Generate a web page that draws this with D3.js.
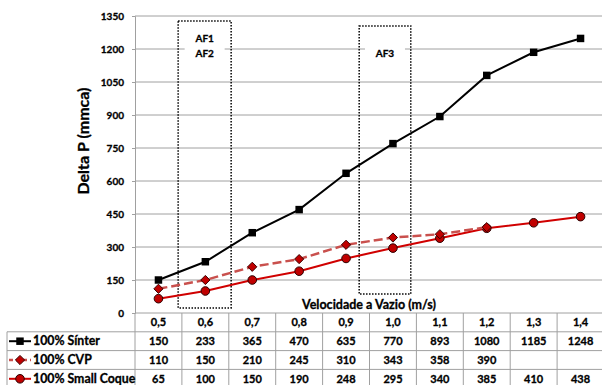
<!DOCTYPE html>
<html>
<head>
<meta charset="utf-8">
<script src="https://cdn.jsdelivr.net/npm/d3@7/dist/d3.min.js"></script>
<style>
  html, body { margin: 0; padding: 0; background: #fff; }
  svg { display: block; font-family: Lato, "Open Sans", sans-serif; font-weight: bold; }
  svg text { stroke: #000; stroke-width: 0.3px; }
</style>
</head>
<body>
<svg id="chart" width="602" height="385"></svg>
<script>
// Air velocity categories (m/s)
const velocities = ["0,5", "0,6", "0,7", "0,8", "0,9", "1,0", "1,1", "1,2", "1,3", "1,4"];
const velocityValues = [0.5, 0.6, 0.7, 0.8, 0.9, 1.0, 1.1, 1.2, 1.3, 1.4];

// Pressure drop per material (mmca); null = not measured
const sinter = [150, 233, 365, 470, 635, 770, 893, 1080, 1185, 1248];
const cvp = [110, 150, 210, 245, 310, 343, 358, 390, null, null];
const smallCoque = [65, 100, 150, 190, 248, 295, 340, 385, 410, 438];

const yTicks = [0, 150, 300, 450, 600, 750, 900, 1050, 1200, 1350];

// Dotted regions marking operating ranges of the furnaces
const zones = [
  { labels: ["AF1", "AF2"], x0: 0.542, x1: 0.655, y0: 23, y1: 1327, labelY: 1235 },
  { labels: ["AF3"], x0: 0.928, x1: 1.038, y0: 86, y1: 1305, labelY: 1168 }
];

const series = [
  { name: "100% Sínter", values: sinter, line: "#000", dash: null, width: 2, marker: "square", fill: "#000", stroke: "#000" },
  { name: "100% CVP", values: cvp, line: "#c9504d", dash: "9,4", width: 2.5, marker: "diamond", fill: "#c00000", stroke: "#3a0000" },
  { name: "100% Small Coque", values: smallCoque, line: "#d00000", dash: null, width: 2, marker: "circle", fill: "#c00000", stroke: "#2a0000" }
];

const svg = d3.select("#chart");
const plot = { left: 135, right: 604, top: 16, bottom: 313 };
const tableLeft = 7;
const rowH = 18.8;

const x = d3.scaleBand().domain(velocities).range([plot.left, plot.right]).paddingInner(0).paddingOuter(0);
const xLin = d3.scaleLinear()
  .domain([velocityValues[0], velocityValues[velocityValues.length - 1]])
  .range([x(velocities[0]) + x.bandwidth() / 2, x(velocities[velocities.length - 1]) + x.bandwidth() / 2]);
const y = d3.scaleLinear().domain([0, 1350]).range([plot.bottom, plot.top]);

// Horizontal gridlines
svg.append("g")
  .selectAll("line")
  .data(yTicks.filter(d => d > 0))
  .join("line")
  .attr("x1", plot.left).attr("x2", plot.right)
  .attr("y1", d => y(d)).attr("y2", d => y(d))
  .attr("stroke", "#a0a0a0").attr("stroke-width", 1);

// Y axis
const yAxis = svg.append("g")
  .attr("transform", `translate(${plot.left},0)`)
  .call(d3.axisLeft(y).tickValues(yTicks).tickSize(3).tickPadding(8).tickFormat(d3.format("d")));
yAxis.select(".domain").attr("stroke", "#a0a0a0");
yAxis.selectAll(".tick line").attr("stroke", "#a0a0a0");
yAxis.selectAll("text").attr("font-size", 10).attr("font-family", "Lato, sans-serif").attr("font-weight", "bold").attr("fill", "#000");

// Y axis title
svg.append("text")
  .attr("transform", `translate(89,141) rotate(-90)`)
  .attr("text-anchor", "middle")
  .attr("font-size", 16)
  .text("Delta P (mmca)");

// Zones
zones.forEach(z => {
  svg.append("rect")
    .attr("x", xLin(z.x0)).attr("y", y(z.y1))
    .attr("width", xLin(z.x1) - xLin(z.x0)).attr("height", y(z.y0) - y(z.y1))
    .attr("fill", "none").attr("stroke", "#000").attr("stroke-width", 1.5)
    .attr("stroke-dasharray", "1.5,1.5");
  const cx = (xLin(z.x0) + xLin(z.x1)) / 2;
  const top = y(z.labelY) - 8;
  svg.append("rect")
    .attr("x", cx - 20).attr("y", top - 6)
    .attr("width", 40).attr("height", z.labels.length * 15 + 4)
    .attr("fill", "#fff");
  z.labels.forEach((t, i) => {
    svg.append("text")
      .attr("x", cx).attr("y", top + 9 + i * 15)
      .attr("text-anchor", "middle").attr("font-size", 10)
      .text(t);
  });
});

// Marker shapes
const diamondPath = "M0,-4.6L4.6,0L0,4.6L-4.6,0Z";
function drawMarker(g, s, cx, cy) {
  let d;
  if (s.marker === "diamond") d = diamondPath;
  else if (s.marker === "square") d = d3.symbol().type(d3.symbolSquare).size(56)();
  else d = d3.symbol().type(d3.symbolCircle).size(58)();
  g.append("path")
    .attr("d", d)
    .attr("transform", `translate(${cx},${cy})`)
    .attr("fill", s.fill).attr("stroke", s.stroke).attr("stroke-width", s.marker === "square" ? 0 : 1);
}

// Series lines and markers
const cx = i => x(velocities[i]) + x.bandwidth() / 2;
series.slice().reverse().forEach(s => {
  const pts = s.values.map((v, i) => ({ i, v })).filter(d => d.v != null);
  const line = d3.line().x(d => cx(d.i)).y(d => y(d.v));
  svg.append("path")
    .datum(pts)
    .attr("d", line)
    .attr("fill", "none")
    .attr("stroke", s.line)
    .attr("stroke-width", s.width)
    .attr("stroke-dasharray", s.dash);
  const g = svg.append("g");
  pts.forEach(d => drawMarker(g, s, cx(d.i), y(d.v)));
});

// X axis title
svg.append("text")
  .attr("x", 369).attr("y", 309)
  .attr("text-anchor", "middle")
  .attr("font-size", 12.5)
  .text("Velocidade a Vazio (m/s)");

// Data table
const grid = svg.append("g").attr("stroke", "#a0a0a0").attr("stroke-width", 1);
const headerTop = plot.bottom;
const rowTops = [headerTop, headerTop + rowH, headerTop + 2 * rowH, headerTop + 3 * rowH, headerTop + 4 * rowH];
// Horizontal table rules
grid.append("line").attr("x1", plot.left).attr("x2", plot.right).attr("y1", headerTop).attr("y2", headerTop);
rowTops.slice(1).forEach(t => {
  grid.append("line").attr("x1", tableLeft).attr("x2", plot.right).attr("y1", t).attr("y2", t);
});
// Vertical table rules
grid.append("line").attr("x1", tableLeft).attr("x2", tableLeft).attr("y1", rowTops[1]).attr("y2", 385);
velocities.forEach(v => {
  grid.append("line").attr("x1", x(v)).attr("x2", x(v)).attr("y1", headerTop).attr("y2", 385);
});

// Header labels
svg.append("g").selectAll("text")
  .data(velocities)
  .join("text")
  .attr("x", d => x(d) + x.bandwidth() / 2)
  .attr("y", headerTop + rowH / 2 + 4)
  .attr("text-anchor", "middle").attr("font-size", 11)
  .text(d => d);

// Series rows
series.forEach((s, r) => {
  const top = rowTops[r + 1];
  const mid = top + rowH / 2;
  const row = svg.append("g");
  row.append("line")
    .attr("x1", 9).attr("x2", 31).attr("y1", mid).attr("y2", mid)
    .attr("stroke", s.line).attr("stroke-width", s.width)
    .attr("stroke-dasharray", s.dash ? "4,3" : null);
  drawMarker(row, s, 20, mid);
  row.append("text")
    .attr("x", 33).attr("y", mid + 4)
    .attr("font-size", 12.3)
    .text(s.name);
  row.selectAll("text.val")
    .data(s.values.map((v, i) => ({ v, i })).filter(d => d.v != null))
    .join("text")
    .attr("class", "val")
    .attr("x", d => cx(d.i))
    .attr("y", mid + 3.8)
    .attr("text-anchor", "middle").attr("font-size", 11)
    .text(d => d.v);
});
</script>
</body>
</html>
